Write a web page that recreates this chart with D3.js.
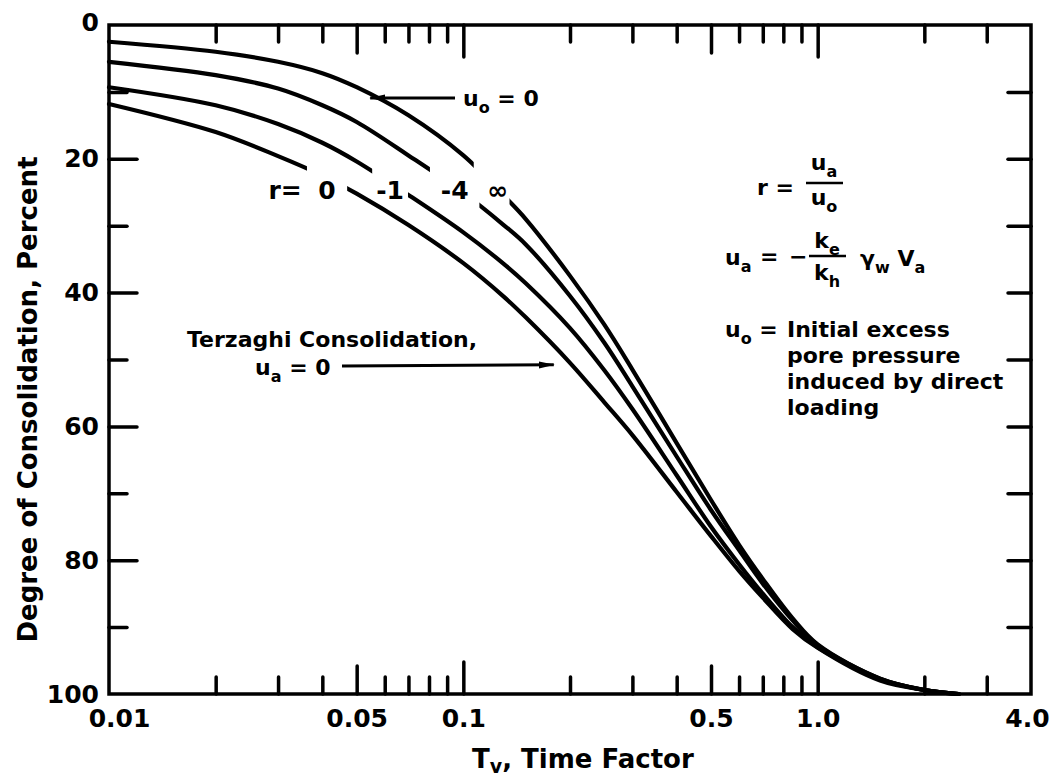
<!DOCTYPE html>
<html>
<head>
<meta charset="utf-8">
<title>Degree of Consolidation vs Time Factor</title>
<script src="https://d3js.org/d3.v7.min.js"></script>
<style>
body { margin: 0; background: #fff; }
text { font-family: "DejaVu Sans", sans-serif; font-weight: bold; fill: #000; }
</style>
</head>
<body>
<div class="chart"></div>
<script>
var timeFactor = [0.01, 0.02, 0.03, 0.04, 0.05, 0.07, 0.1, 0.13, 0.15, 0.2, 0.25, 0.3, 0.4, 0.5, 0.6, 0.7, 0.85, 1.0, 1.5, 2.0, 2.5];
// degree of consolidation (percent) for each r
var rInfinity = [2.5, 4.0, 5.5, 7.2, 9.3, 13.5, 19.5, 25.5, 29.0, 37.5, 44.8, 51.5, 62.5, 71.0, 77.7, 82.8, 88.7, 92.6, 97.7, 99.4, 100];
var rMinus4   = [5.5, 7.5, 9.5, 12.0, 14.5, 19.5, 25.1, 29.9, 32.8, 40.5, 47.5, 54.0, 64.5, 72.5, 78.5, 83.5, 89.0, 92.7, 97.7, 99.4, 100];
var rMinus1   = [9.3, 12.0, 14.8, 17.6, 20.4, 25.4, 31.0, 35.7, 38.6, 45.3, 51.6, 57.4, 67.3, 75.0, 80.6, 85.0, 90.0, 93.0, 97.8, 99.4, 100];
var rZero     = [11.8, 16.0, 19.6, 22.5, 25.2, 29.9, 35.6, 40.6, 43.7, 50.5, 56.4, 61.3, 69.8, 76.4, 81.6, 85.6, 90.3, 93.1, 98.0, 99.4, 100];
var curveNames = ["\u221e", "-4", "-1", "0"];
// where each curve is broken for its label (Tv)
var gapStart = [0.107, 0.0805, 0.0553, 0.0362];
var gapEnd   = [0.135, 0.111, 0.0698, 0.047];

// axis ticks
var xMinorTicks = [0.02, 0.03, 0.04, 0.06, 0.07, 0.08, 0.09, 0.2, 0.3, 0.4, 0.6, 0.7, 0.8, 0.9, 2, 3];
var xMidTicks = [0.05, 0.5];
var xMajorTicks = [0.1, 1];
var xLabelValues = [0.01, 0.05, 0.1, 0.5, 1, 4];
var xLabelText = ["0.01", "0.05", "0.1", "0.5", "1.0", "4.0"];
var yLabelValues = [0, 20, 40, 60, 80, 100];
var yMajorTicks = [20, 40, 60, 80];
var yMinorTicks = [10, 30, 50, 70, 90];

var margin = {top: 25, right: 30, bottom: 84, left: 109},
    width = 1061 - margin.left - margin.right,
    height = 778 - margin.top - margin.bottom;

var svg = d3.select(".chart").append("svg")
    .attr("width", 1061)
    .attr("height", 778);

var g = svg.append("g")
    .attr("transform", "translate(" + margin.left + "," + margin.top + ")");

var x = d3.scaleLog().domain([0.01, 4]).range([0, width]);
var y = d3.scaleLinear().domain([0, 100]).range([0, height]);

var defs = svg.append("defs");
defs.append("marker")
    .attr("id", "arrow")
    .attr("viewBox", "0 0 16 10")
    .attr("refX", 15).attr("refY", 5)
    .attr("markerWidth", 16).attr("markerHeight", 10)
    .attr("markerUnits", "userSpaceOnUse")
    .attr("orient", "auto")
  .append("path")
    .attr("d", "M0,1.5 L16,5 L0,8.5 Z")
    .attr("fill", "#000");

var allXTicks = xMinorTicks.concat(xMidTicks, xMajorTicks);
function xTickLen(d) {
  if (xMajorTicks.indexOf(d) >= 0) return 32;
  if (xMidTicks.indexOf(d) >= 0) return 28;
  return 17;
}
function yTickLen(d) {
  return yMajorTicks.indexOf(d) >= 0 ? 28 : 18;
}

// tick marks, all drawn inside the frame
var bottomTicks = g.append("g")
    .attr("transform", "translate(0," + height + ")")
    .call(d3.axisBottom(x).tickValues(allXTicks).tickFormat("").tickSize(0));
bottomTicks.selectAll(".tick line").attr("y2", function(d) { return -xTickLen(d); });

var topTicks = g.append("g")
    .call(d3.axisTop(x).tickValues(allXTicks).tickFormat("").tickSize(0));
topTicks.selectAll(".tick line").attr("y2", function(d) { return xTickLen(d); });

var leftTicks = g.append("g")
    .call(d3.axisLeft(y).tickValues(yMajorTicks.concat(yMinorTicks)).tickFormat("").tickSize(0));
leftTicks.selectAll(".tick line").attr("x2", function(d) { return yTickLen(d); });

var rightTicks = g.append("g")
    .attr("transform", "translate(" + width + ",0)")
    .call(d3.axisRight(y).tickValues(yMajorTicks.concat(yMinorTicks)).tickFormat("").tickSize(0));
rightTicks.selectAll(".tick line").attr("x2", -23);

g.selectAll(".domain").remove();
g.selectAll(".tick line")
    .attr("stroke", "#000")
    .attr("stroke-width", 3.5)
    .attr("stroke-linecap", "round");

// tick labels
var xLabels = g.append("g")
    .attr("transform", "translate(0," + height + ")")
    .style("font-size", "25px")
    .call(d3.axisBottom(x).tickValues(xLabelValues)
      .tickFormat(function(d, i) { return xLabelText[i]; })
      .tickSize(0).tickPadding(15));
xLabels.select(".domain").remove();
xLabels.selectAll(".tick text").attr("dx", function(d, i) { return i === 0 ? 10 : (i === xLabelValues.length - 1 ? -4 : 0); });

var yLabels = g.append("g")
    .style("font-size", "25px")
    .call(d3.axisLeft(y).tickValues(yLabelValues).tickSize(0).tickPadding(10));
yLabels.select(".domain").remove();
yLabels.selectAll(".tick text").attr("dy", function(d) { return d === 0 ? "0.2em" : "0.32em"; });

// frame
g.append("rect")
    .attr("x", 0).attr("y", 0)
    .attr("width", width).attr("height", height)
    .attr("fill", "none")
    .attr("stroke", "#000")
    .attr("stroke-width", 3.5);

// curves
var line = d3.line()
    .x(function(d) { return x(d[0]); })
    .y(function(d) { return y(d[1]); })
    .curve(d3.curveCatmullRom.alpha(0.5));

var curves = [rInfinity, rMinus4, rMinus1, rZero];
curves.forEach(function(vals, i) {
  var mask = defs.append("mask")
      .attr("id", "gap" + i)
      .attr("maskUnits", "userSpaceOnUse")
      .attr("x", -20).attr("y", -20)
      .attr("width", width + 40).attr("height", height + 40);
  mask.append("rect")
      .attr("x", -20).attr("y", -20)
      .attr("width", width + 40).attr("height", height + 40)
      .attr("fill", "#fff");
  mask.append("rect")
      .attr("x", x(gapStart[i])).attr("y", -20)
      .attr("width", x(gapEnd[i]) - x(gapStart[i])).attr("height", height + 40)
      .attr("fill", "#000");

  g.append("path")
      .datum(timeFactor.map(function(t, k) { return [t, vals[k]]; }))
      .attr("d", line)
      .attr("fill", "none")
      .attr("stroke", "#000")
      .attr("stroke-width", 4.2)
      .attr("stroke-linecap", "round")
      .attr("mask", "url(#gap" + i + ")");

  g.append("text")
      .attr("x", x(Math.sqrt(gapStart[i] * gapEnd[i])) + (i === 0 ? 6 : 0))
      .attr("y", y(24.7))
      .attr("dy", "0.36em")
      .attr("text-anchor", "middle")
      .style("font-size", "25px")
      .text(curveNames[i]);
});
g.append("text")
    .attr("x", x(Math.sqrt(gapStart[3] * gapEnd[3])) - 42)
    .attr("y", y(24.7))
    .attr("dy", "0.36em")
    .attr("text-anchor", "middle")
    .style("font-size", "25px")
    .text("r=");

// text with subscripts
function addRich(parent, px, py, size, parts, anchor, subShift) {
  var t = parent.append("text")
      .attr("x", px).attr("y", py)
      .attr("text-anchor", anchor || "start")
      .style("font-size", size + "px");
  var shift = 0;
  parts.forEach(function(p) {
    var want = p[1] ? Math.round(size * (subShift || 0.3)) : 0;
    var ts = t.append("tspan").text(p[0]).attr("dy", want - shift);
    if (p[1]) ts.style("font-size", Math.round(size * 0.72) + "px");
    shift = want;
  });
  return t;
}

// u_o = 0 arrow onto the r = infinity curve
addRich(svg, 463, 106, 22, [["u"], ["o", 1], [" = 0"]]);
g.append("line")
    .attr("x1", 455 - margin.left).attr("y1", 98 - margin.top)
    .attr("x2", x(0.0546)).attr("y2", y(10.9))
    .attr("stroke", "#000").attr("stroke-width", 3)
    .attr("marker-end", "url(#arrow)");

// Terzaghi label and arrow onto the r = 0 curve
svg.append("text").attr("x", 187).attr("y", 347).style("font-size", "22px").text("Terzaghi Consolidation,");
addRich(svg, 255, 375, 22, [["u"], ["a", 1], [" = 0"]]);
g.append("line")
    .attr("x1", 342 - margin.left).attr("y1", 366 - margin.top)
    .attr("x2", x(0.18)).attr("y2", y(50.8))
    .attr("stroke", "#000").attr("stroke-width", 3)
    .attr("marker-end", "url(#arrow)");

// definitions on the right
svg.append("text").attr("x", 757).attr("y", 195).style("font-size", "22px").text("r =");
addRich(svg, 824, 170, 22, [["u"], ["a", 1]], "middle");
svg.append("line").attr("x1", 806).attr("x2", 843).attr("y1", 183).attr("y2", 183)
    .attr("stroke", "#000").attr("stroke-width", 2.5);
addRich(svg, 824, 205, 22, [["u"], ["o", 1]], "middle");

addRich(svg, 725, 265, 22, [["u"], ["a", 1]]);
svg.append("text").attr("x", 760).attr("y", 264).style("font-size", "22px").text("=");
svg.append("text").attr("x", 789).attr("y", 264).style("font-size", "22px").text("\u2212");
addRich(svg, 827, 248, 22, [["k"], ["e", 1]], "middle");
svg.append("line").attr("x1", 809).attr("x2", 846).attr("y1", 256).attr("y2", 256)
    .attr("stroke", "#000").attr("stroke-width", 2.5);
addRich(svg, 827, 280, 22, [["k"], ["h", 1]], "middle");
addRich(svg, 860, 266, 22, [["\u03b3"], ["w", 1], [" V"], ["a", 1]]);

addRich(svg, 725, 337, 22, [["u"], ["o", 1], [" ="]]);
var defLines = ["Initial excess", "pore pressure", "induced by direct", "loading"];
defLines.forEach(function(s, i) {
  svg.append("text").attr("x", 787).attr("y", 337 + i * 26).style("font-size", "22px").text(s);
});

// axis titles
addRich(svg, 472, 768, 26, [["T"], ["v", 1], [",  Time Factor"]], "start", 0.2);
svg.append("text")
    .attr("transform", "translate(37," + (margin.top + height / 2 + 40) + ") rotate(-90)")
    .attr("text-anchor", "middle")
    .style("font-size", "26px")
    .text("Degree of Consolidation, Percent");
</script>
</body>
</html>
